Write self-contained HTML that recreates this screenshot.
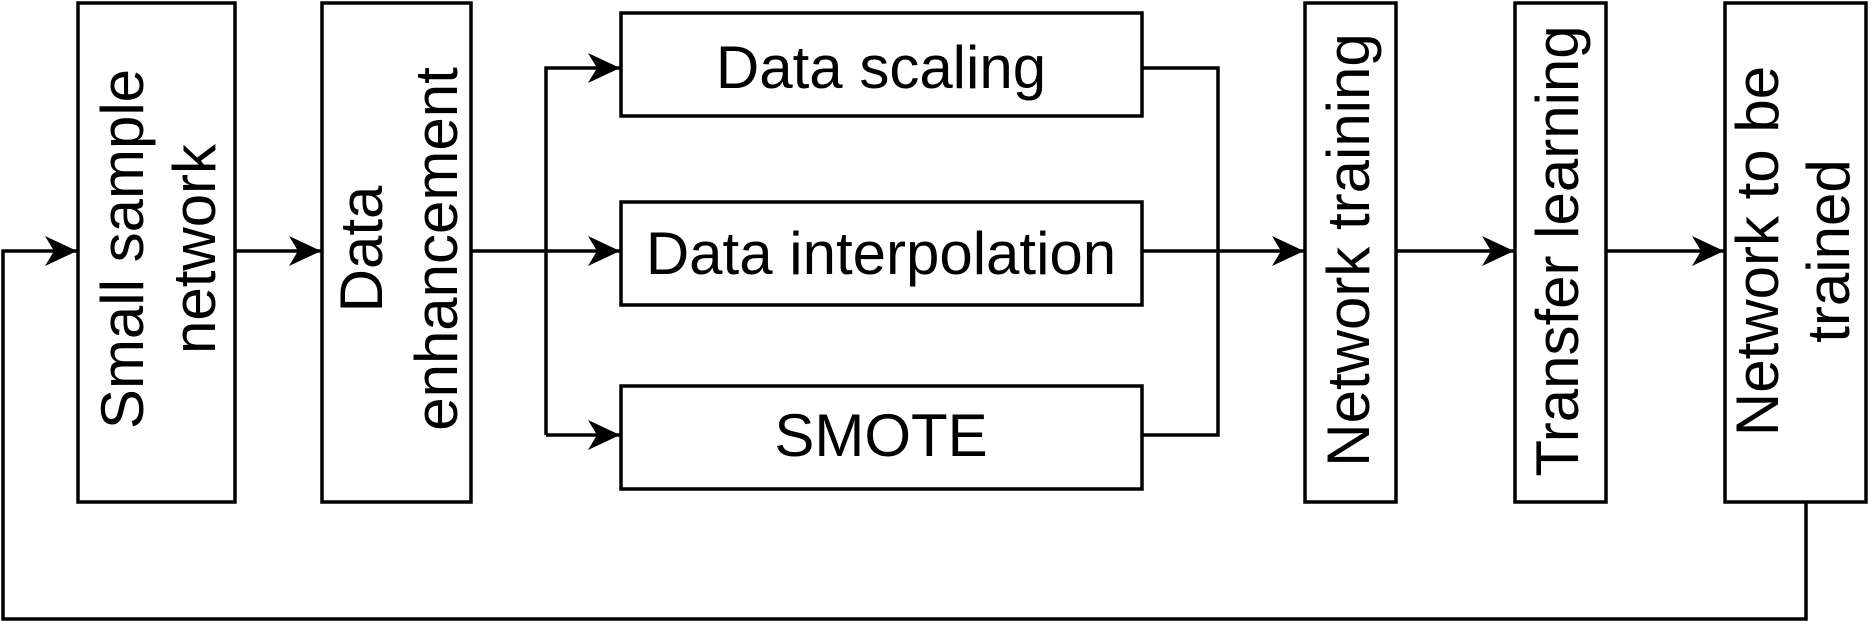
<!DOCTYPE html>
<html><head><meta charset="utf-8"><style>
html,body{margin:0;padding:0;background:#fff;}
svg{display:block;}
text{font-family:"Liberation Sans",Arial,sans-serif;font-size:60px;fill:#000;}
</style></head><body>
<svg width="1872" height="622" viewBox="0 0 1872 622" xmlns="http://www.w3.org/2000/svg">
<defs>
<marker id="a" markerWidth="34" markerHeight="32" refX="32" refY="15" orient="auto" markerUnits="userSpaceOnUse">
<path d="M0,0 L32,15 L0,30 L9,15 Z" fill="#000"/>
</marker>
</defs>
<g fill="none" stroke="#000" stroke-width="3.5">
<rect x="78" y="3" width="157" height="499"/>
<rect x="322" y="3" width="149" height="499"/>
<rect x="621" y="13" width="521" height="103"/>
<rect x="621" y="202" width="521" height="103"/>
<rect x="621" y="386" width="521" height="103"/>
<rect x="1305" y="3" width="91" height="499"/>
<rect x="1515" y="3" width="91" height="499"/>
<rect x="1725" y="3" width="141" height="499"/>
<path d="M1806,502 V619 H3 V251 H77" marker-end="url(#a)"/>
<path d="M235,251 H321" marker-end="url(#a)"/>
<path d="M471,251 H620" marker-end="url(#a)"/>
<path d="M546,435 V68 H620" marker-end="url(#a)"/>
<path d="M546,435 H620" marker-end="url(#a)"/>
<path d="M1142,68 H1218 V435 H1142"/>
<path d="M1142,251 H1304" marker-end="url(#a)"/>
<path d="M1396,251 H1514" marker-end="url(#a)"/>
<path d="M1606,251 H1724" marker-end="url(#a)"/>
</g>
<text x="881" y="88" text-anchor="middle">Data scaling</text>
<text x="881" y="274" text-anchor="middle">Data interpolation</text>
<text x="881" y="456" text-anchor="middle">SMOTE</text>
<text transform="translate(143,249) rotate(-90)" text-anchor="middle">Small sample</text>
<text transform="translate(215,249) rotate(-90)" text-anchor="middle">network</text>
<text transform="translate(382,249) rotate(-90)" text-anchor="middle">Data</text>
<text transform="translate(457,249) rotate(-90)" text-anchor="middle">enhancement</text>
<text transform="translate(1369,250) rotate(-90)" text-anchor="middle">Network training</text>
<text transform="translate(1578,251) rotate(-90)" text-anchor="middle">Transfer learning</text>
<text transform="translate(1778,251) rotate(-90)" text-anchor="middle">Network to be</text>
<text transform="translate(1849,251) rotate(-90)" text-anchor="middle">trained</text>
</svg>
</body></html>
